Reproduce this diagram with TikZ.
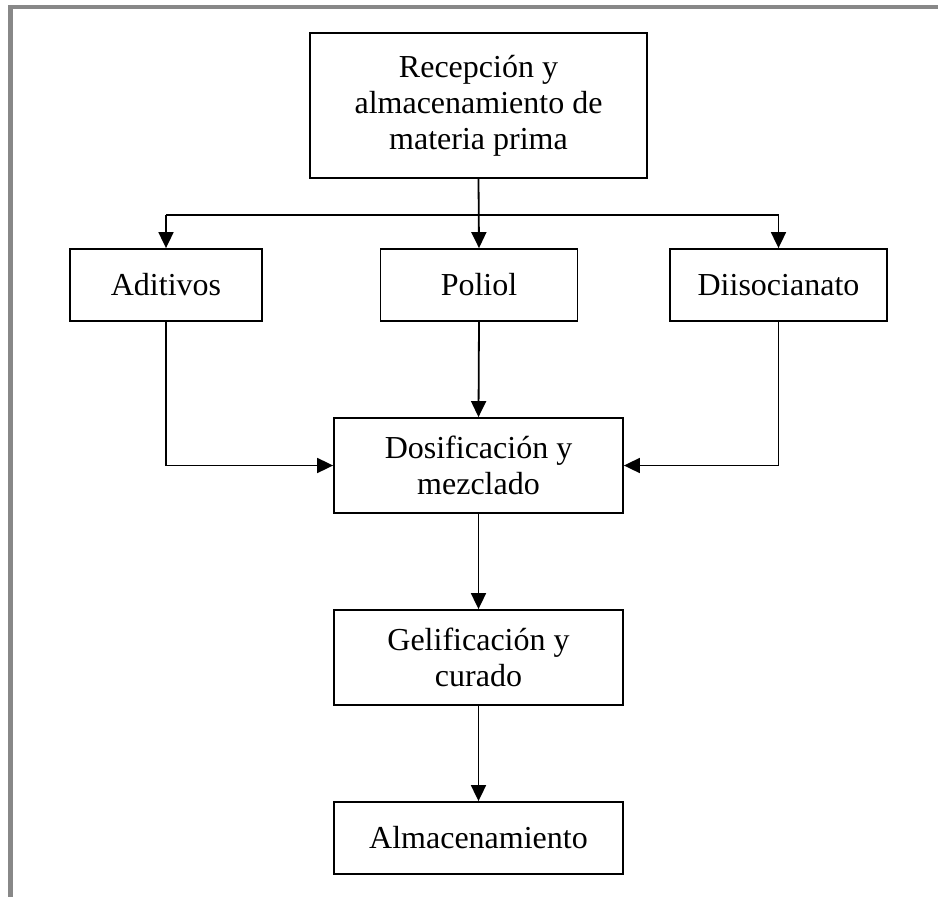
\documentclass[tikz,border=0pt]{standalone}
\usepackage{fontspec}
\setmainfont{Liberation Serif}
\usetikzlibrary{arrows.meta}
\definecolor{framegray}{HTML}{888888}
\begin{document}
\begin{tikzpicture}[x=1pt,y=-1pt,
  boxnode/.style={draw=black, line width=1.8pt, rectangle, align=center, inner sep=0pt,
    font=\fontsize{32}{36}\selectfont},
  conn/.style={draw=black, line width=1.8pt},
  arr/.style={conn, -{Triangle[length=16pt,width=15pt]}}]
\useasboundingbox (0,0) rectangle (938,897);
\draw[framegray, line width=4.3pt] (10.5,897) -- (10.5,7.2) -- (938,7.2);
\node[boxnode, minimum width=337pt, minimum height=145pt] (top) at (478.5,105.5)
  {Recepción y\\almacenamiento de\\materia prima};
\node[boxnode, minimum width=192pt, minimum height=72pt] (adit) at (166,285) {Aditivos};
\node[boxnode, minimum width=197pt, minimum height=72pt] (poli) at (479,285) {Poliol};
\node[boxnode, minimum width=217pt, minimum height=72pt] (diis) at (778.5,285) {Diisocianato};
\node[boxnode, minimum width=289pt, minimum height=95pt] (dosi) at (478.5,465.5) {Dosificación y\\mezclado};
\node[boxnode, minimum width=289pt, minimum height=95pt] (geli) at (478.5,657.5) {Gelificación y\\curado};
\node[boxnode, minimum width=289pt, minimum height=72pt] (alma) at (478.5,838) {Almacenamiento};
\coordinate (split) at (479,215);
\draw[arr] (top.south) -- (poli.north);
\draw[conn] (split -| adit.north) -- (split -| diis.north);
\draw[arr] (split -| adit.north) -- (adit.north);
\draw[arr] (split -| diis.north) -- (diis.north);
\draw[arr] (adit.south) |- (dosi.west);
\draw[arr] (diis.south) |- (dosi.east);
\draw[arr] (poli.south) -- (dosi.north);
\draw[arr] (dosi.south) -- (geli.north);
\draw[arr] (geli.south) -- (alma.north);
\end{tikzpicture}
\end{document}
